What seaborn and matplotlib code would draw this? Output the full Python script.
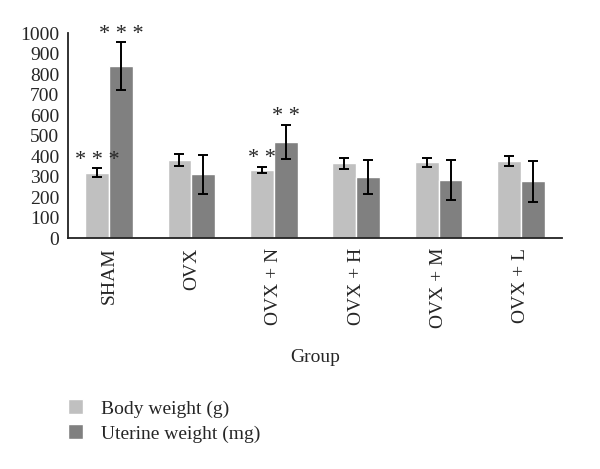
import numpy as np
import pandas as pd
import seaborn as sns
from matplotlib import pyplot as plt

groups = ["SHAM", "OVX", "OVX + N", "OVX + H", "OVX + M", "OVX + L"]
body_weight = [318, 380, 333, 364, 369, 377]
body_err = [22, 28, 15, 27, 22, 24]
uterine_weight = [838, 310, 470, 296, 285, 276]
uterine_err = [118, 95, 83, 83, 98, 100]
body_stars = ["* * *", "", "* *", "", "", ""]
uterine_stars = ["* * *", "", "* *", "", "", ""]

series = ["Body weight (g)", "Uterine weight (mg)"]

df = pd.DataFrame({
    "Group": groups * 2,
    "value": body_weight + uterine_weight,
    "series": [series[0]] * len(groups) + [series[1]] * len(groups),
})

sns.set_style("white")
plt.rcParams["font.family"] = ["Liberation Serif", "DejaVu Serif"]

fig = plt.figure(figsize=(6, 4.69), dpi=100)
ax = fig.add_axes([0.113, 0.4925, 0.824, 0.437])

sns.barplot(data=df, x="Group", y="value", hue="series", order=groups,
            palette=["#c0c0c0", "#808080"], width=0.58, errorbar=None,
            saturation=1, ax=ax)

errs = [body_err, uterine_err]
stars = [body_stars, uterine_stars]
vals = [body_weight, uterine_weight]
bar_containers = list(ax.containers)
for k, cont in enumerate(bar_containers):
    for i, bar in enumerate(cont):
        xc = bar.get_x() + bar.get_width() / 2
        ax.errorbar(xc, vals[k][i], yerr=errs[k][i], color="black",
                    lw=1.4, capsize=3.5, capthick=1.4)
        if stars[k][i]:
            ax.text(xc, vals[k][i] + errs[k][i] + 38, stars[k][i],
                    ha="center", va="center", fontsize=16)

ax.set_ylim(0, 1000)
ax.set_xlim(-0.5, 5.5)
ax.set_yticks(np.arange(0, 1001, 100))
ax.set_xticks(np.arange(0.5, 5.6, 1), minor=True)
ax.tick_params(axis="x", which="major", length=0, pad=7, labelsize=14,
               labelrotation=90)
ax.tick_params(axis="x", which="minor", length=4, direction="in",
               width=1.2, color="#222222")
ax.tick_params(axis="y", length=3, direction="in", width=1.2, pad=6,
               labelsize=14, color="#222222")
for lab in ax.get_xticklabels():
    lab.set_va("top")
sns.despine(ax=ax)
ax.spines["left"].set_color("#222222")
ax.spines["bottom"].set_color("#222222")
ax.spines["left"].set_linewidth(1.3)
ax.spines["bottom"].set_linewidth(1.3)
ax.set_ylabel("")
ax.set_xlabel("Group", fontsize=14)
ax.xaxis.set_label_coords(0.5, -0.54)

handles, labels = ax.get_legend_handles_labels()
ax.legend_.remove()
fig.legend(handles, labels, loc="upper left", bbox_to_anchor=(0.1, 0.165),
           frameon=False, fontsize=14, handlelength=0.8, handleheight=0.8,
           handletextpad=0.9, labelspacing=0.35, borderaxespad=0)

fig.savefig("out.png", dpi=100)
